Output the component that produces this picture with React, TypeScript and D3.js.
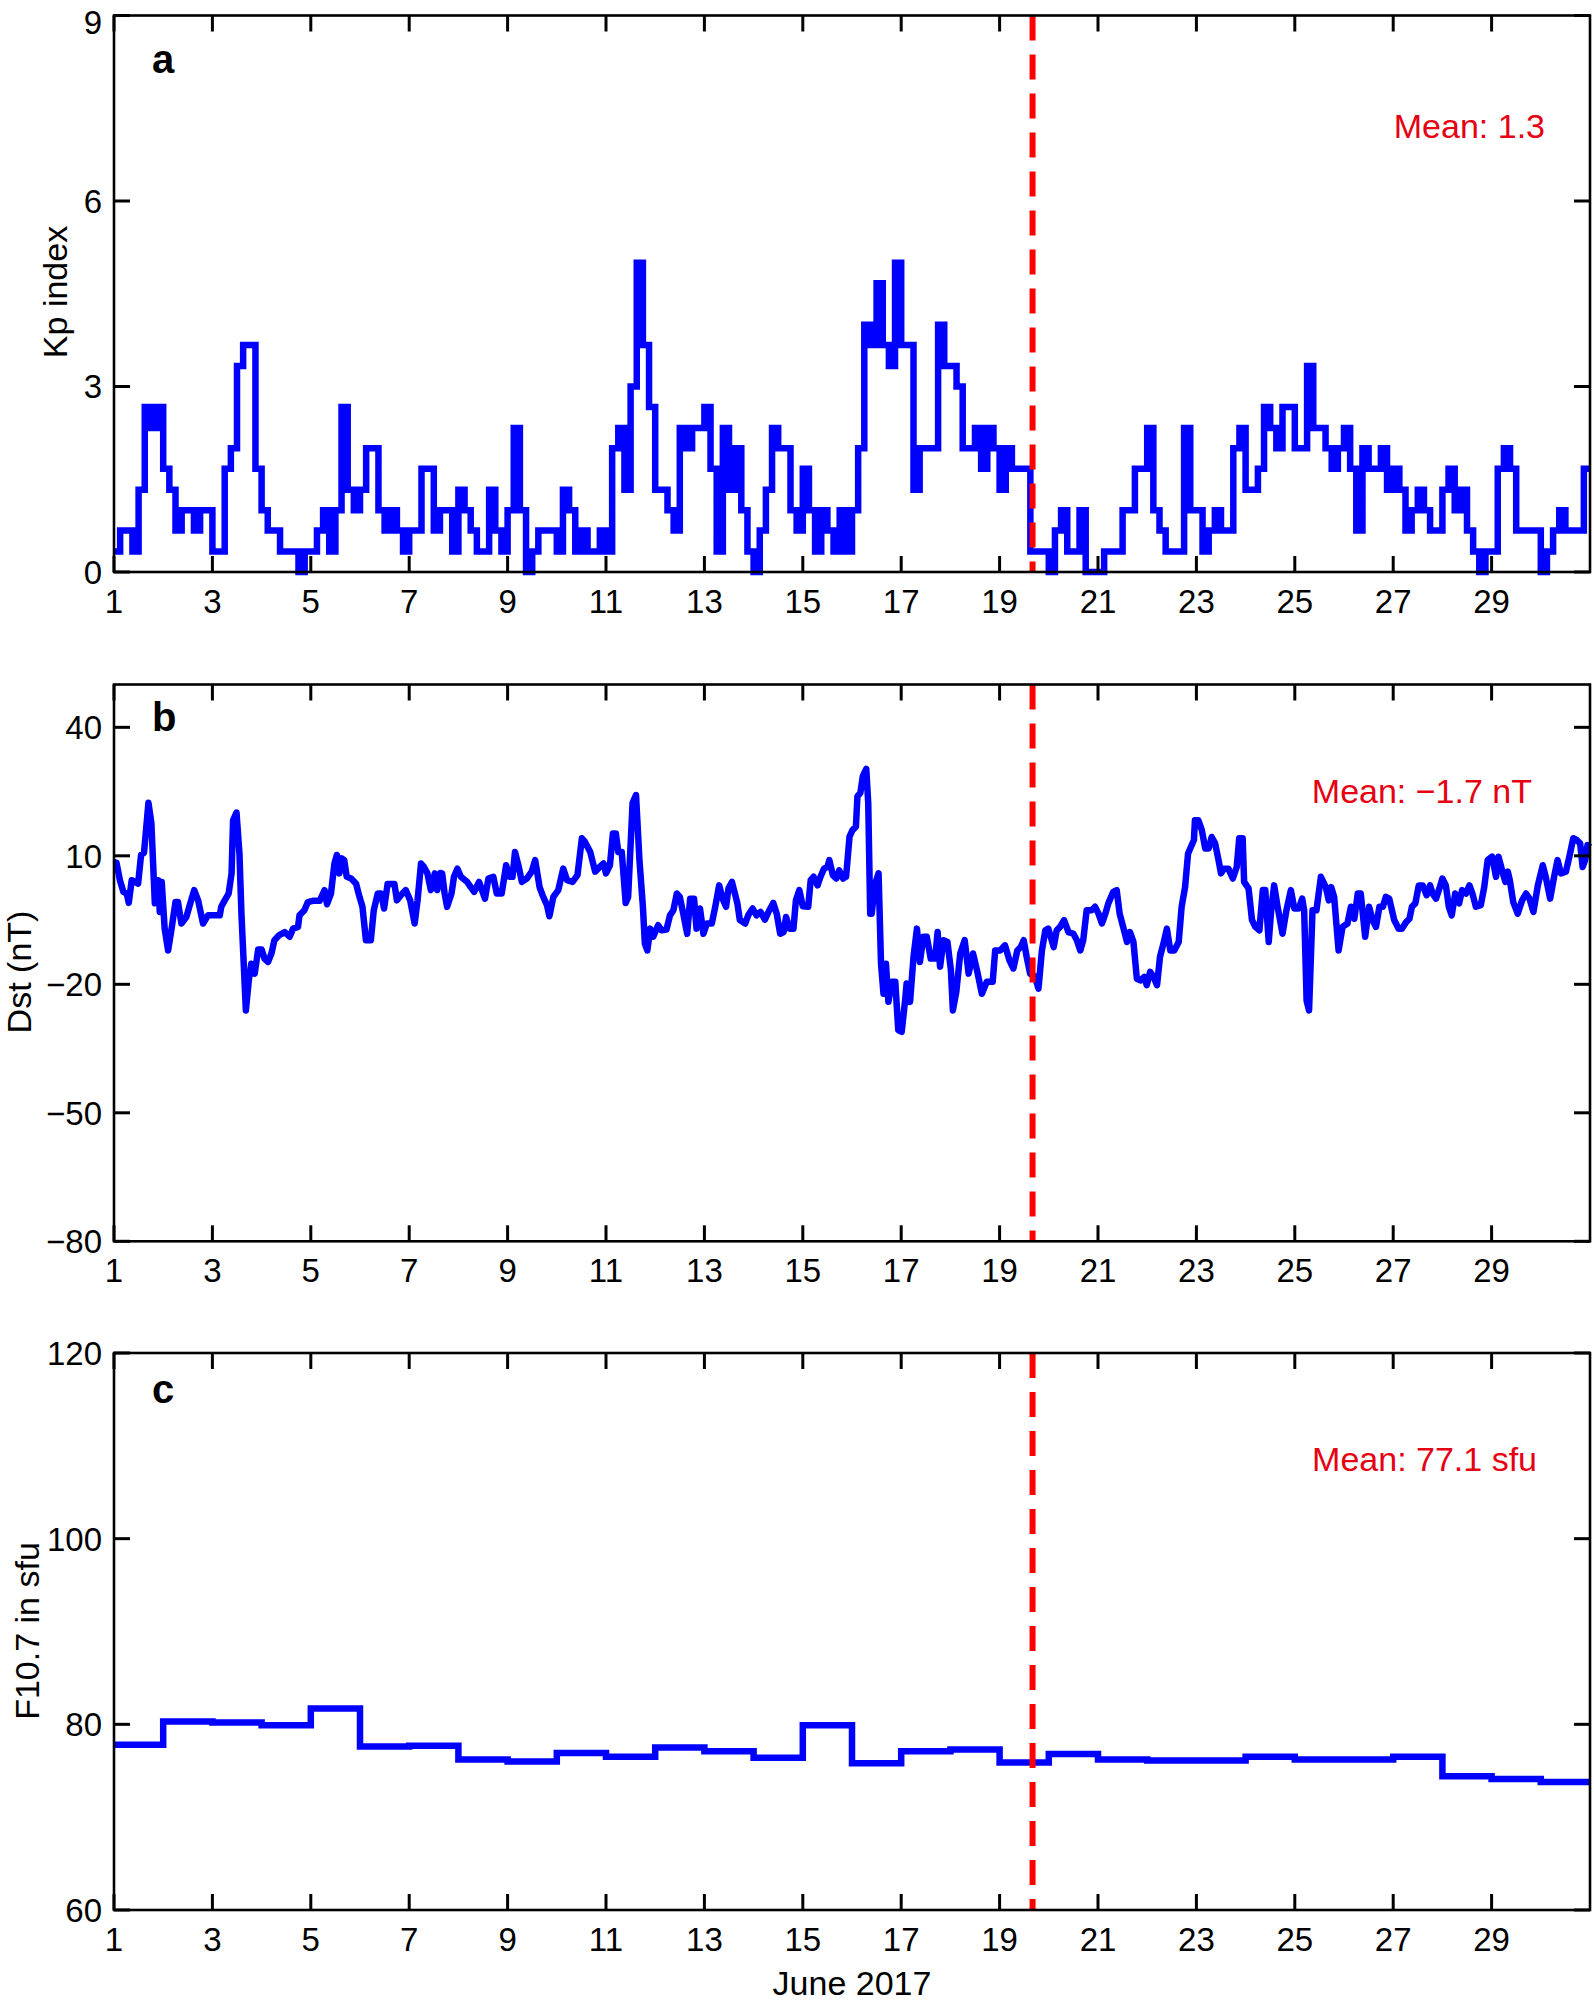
import React from 'react';
import * as d3 from 'd3';

// ---------- data ----------
// Kp index, 3-hourly, June 1 00UT .. June 30 21UT (240 values)
const kpValues: number[] = [
  0.33, 0.67, 0.67, 0.33, 1.33, 2.67, 2.33, 2.67,
  1.67, 1.33, 0.67, 1, 1, 0.67, 1, 1,
  0.33, 0.33, 1.67, 2, 3.33, 3.67, 3.67, 1.67,
  1, 0.67, 0.67, 0.33, 0.33, 0.33, 0, 0.33,
  0.33, 0.67, 1, 0.33, 1, 2.67, 1.33, 1,
  1.33, 2, 2, 1, 0.67, 1, 0.67, 0.33,
  0.67, 0.67, 1.67, 1.67, 0.67, 1, 1, 0.33,
  1.33, 1, 0.67, 0.33, 0.33, 1.33, 0.67, 0.33,
  1, 2.33, 1, 0, 0.33, 0.67, 0.67, 0.67,
  0.33, 1.33, 1, 0.33, 0.67, 0.33, 0.33, 0.67,
  0.33, 2, 2.33, 1.33, 3, 5, 3.67, 2.67,
  1.33, 1.33, 1, 0.67, 2.33, 2, 2.33, 2.33,
  2.67, 1.67, 0.33, 2.33, 1.33, 2, 1, 0.33,
  0, 0.67, 1.33, 2.33, 2, 2, 1, 0.67,
  1.67, 1, 0.33, 1, 0.67, 0.33, 1, 0.33,
  1, 2, 4, 3.67, 4.67, 3.67, 3.33, 5,
  3.67, 3.67, 1.33, 2, 2, 2, 4, 3.33,
  3.33, 3, 2, 2, 2.33, 1.67, 2.33, 2,
  1.33, 2, 1.67, 1.67, 1.67, 0.33, 0.33, 0.33,
  0, 0.67, 1, 0.33, 0.33, 1, 0, 0,
  0, 0.33, 0.33, 0.33, 1, 1, 1.67, 1.67,
  2.33, 1, 0.67, 0.33, 0.33, 0.33, 2.33, 1,
  1, 0.33, 0.67, 1, 0.67, 0.67, 2, 2.33,
  1.33, 1.33, 1.67, 2.67, 2.33, 2, 2.67, 2.67,
  2, 2, 3.33, 2.33, 2.33, 2, 1.67, 2,
  2.33, 1.67, 0.67, 2, 1.67, 1.67, 2, 1.33,
  1.67, 1.33, 0.67, 1, 1.33, 1, 0.67, 0.67,
  1.33, 1.67, 1, 1.33, 0.67, 0.33, 0, 0.33,
  0.33, 1.67, 2, 1.67, 0.67, 0.67, 0.67, 0.67,
  0, 0.33, 0.67, 1, 0.67, 0.67, 0.67, 1.67,
];

// Dst (nT): [day of June, value]
const dstPoints: [number, number][] = [
  [1.00, 8.5], [1.05, 8.4], [1.12, 4.3], [1.19, 1.6], [1.26, 1.2], [1.30, -1.0], [1.36, 4.3], [1.43, 3.9],
  [1.49, 3.5], [1.55, 10.2], [1.61, 10.7], [1.70, 22.4], [1.76, 17.6], [1.83, -1.1], [1.90, 4.3], [1.93, -3.1],
  [1.97, 3.9], [2.03, -7.0], [2.10, -12.1], [2.17, -7.0], [2.25, -0.8], [2.30, -0.8], [2.37, -5.8], [2.47, -4.3],
  [2.54, -1.5], [2.63, 2.0], [2.71, -0.4], [2.81, -5.8], [2.91, -3.9], [3.05, -3.9], [3.15, -3.9], [3.18, -1.9],
  [3.25, -0.4], [3.33, 1.2], [3.39, 5.9], [3.42, 18.3], [3.49, 20.1], [3.55, 10.5], [3.59, -3.5], [3.64, -16.0],
  [3.68, -26.1], [3.74, -19.1], [3.79, -15.2], [3.86, -17.5], [3.93, -11.9], [4.00, -11.9], [4.06, -14.0], [4.13, -14.8],
  [4.20, -12.8], [4.26, -9.7], [4.36, -8.5], [4.47, -7.8], [4.57, -8.9], [4.64, -7.0], [4.74, -6.6], [4.77, -3.9],
  [4.87, -2.7], [4.94, -0.8], [5.04, -0.5], [5.18, -0.5], [5.28, 2.0], [5.33, -1.3], [5.41, 1.2], [5.48, 8.2],
  [5.53, 10.2], [5.58, 5.9], [5.63, 9.4], [5.68, 9.0], [5.73, 5.1], [5.82, 4.7], [5.92, 3.5], [5.99, 0.4],
  [6.05, -1.9], [6.12, -9.7], [6.22, -9.7], [6.28, -2.7], [6.36, 1.2], [6.43, 1.2], [6.49, -2.3], [6.56, 3.4],
  [6.70, 3.4], [6.75, -0.4], [6.83, 0.8], [6.93, 2.0], [7.02, -0.4], [7.11, -5.8], [7.17, -0.4], [7.24, 8.2],
  [7.30, 7.4], [7.37, 5.9], [7.44, 2.0], [7.52, 5.9], [7.57, 2.0], [7.63, 6.0], [7.67, 5.9], [7.72, 1.2],
  [7.77, -1.9], [7.86, 1.2], [7.91, 5.1], [7.98, 7.0], [8.05, 5.1], [8.18, 3.9], [8.25, 2.7], [8.32, 1.6],
  [8.42, 3.9], [8.54, 0.0], [8.61, 4.7], [8.71, 5.1], [8.78, 1.2], [8.88, 1.2], [8.97, 7.8], [9.04, 5.1],
  [9.10, 5.1], [9.15, 10.9], [9.22, 7.8], [9.29, 3.9], [9.39, 4.7], [9.49, 6.3], [9.56, 9.0], [9.65, 2.7],
  [9.71, 0.8], [9.80, -1.5], [9.85, -4.1], [9.93, 0.4], [10.03, 2.0], [10.13, 7.0], [10.21, 4.3], [10.32, 3.9],
  [10.42, 5.5], [10.51, 14.1], [10.57, 13.3], [10.68, 10.9], [10.78, 6.3], [10.87, 7.4], [10.95, 8.2], [11.00, 5.9],
  [11.08, 7.8], [11.14, 15.2], [11.20, 15.2], [11.25, 10.9], [11.32, 10.9], [11.40, -1.0], [11.45, 0.4], [11.54, 22.3],
  [11.61, 24.2], [11.68, 9.0], [11.75, -1.9], [11.79, -10.5], [11.84, -12.1], [11.90, -7.0], [11.96, -8.9], [12.06, -6.2],
  [12.13, -7.4], [12.23, -7.2], [12.30, -3.9], [12.37, -2.7], [12.44, 1.2], [12.50, 0.4], [12.57, -3.5], [12.65, -8.2],
  [12.71, 0.0], [12.79, 0.0], [12.84, -7.0], [12.91, -2.3], [12.98, -8.2], [13.05, -5.8], [13.15, -5.8], [13.22, -1.9],
  [13.30, 3.1], [13.37, 0.0], [13.44, -1.9], [13.49, 2.4], [13.56, 3.9], [13.62, 1.2], [13.67, -1.1], [13.72, -5.0],
  [13.83, -5.8], [13.89, -3.9], [13.98, -2.3], [14.06, -3.9], [14.14, -3.1], [14.23, -4.9], [14.32, -2.7], [14.40, -1.0],
  [14.47, -3.5], [14.54, -8.2], [14.61, -7.8], [14.66, -4.3], [14.73, -7.0], [14.81, -7.0], [14.86, -0.4], [14.93, 2.0],
  [15.00, -1.8], [15.11, -1.9], [15.16, 4.3], [15.22, 5.1], [15.30, 3.1], [15.36, 5.1], [15.43, 7.0], [15.50, 7.4],
  [15.54, 9.0], [15.61, 5.5], [15.68, 4.7], [15.74, 6.6], [15.82, 4.7], [15.88, 5.1], [15.95, 14.5], [16.01, 16.0],
  [16.08, 16.8], [16.11, 23.9], [16.17, 24.7], [16.22, 28.6], [16.29, 30.3], [16.33, 22.3], [16.37, -3.5], [16.40, -3.5],
  [16.47, 3.5], [16.54, 5.9], [16.59, -15.2], [16.64, -22.2], [16.69, -15.2], [16.74, -24.1], [16.81, -19.4], [16.88, -19.4],
  [16.94, -30.7], [17.01, -31.1], [17.08, -23.7], [17.11, -19.8], [17.18, -24.1], [17.25, -13.6], [17.32, -7.0], [17.38, -14.8],
  [17.45, -8.9], [17.52, -8.9], [17.60, -14.0], [17.69, -14.0], [17.74, -7.8], [17.79, -15.9], [17.86, -9.7], [17.94, -10.1],
  [18.01, -16.7], [18.05, -26.1], [18.12, -21.8], [18.20, -12.8], [18.29, -9.7], [18.37, -17.5], [18.46, -12.8], [18.54, -16.7],
  [18.64, -22.2], [18.74, -19.4], [18.86, -19.4], [18.91, -12.1], [19.01, -12.1], [19.11, -10.9], [19.20, -14.4], [19.28, -16.3],
  [19.36, -12.1], [19.43, -11.3], [19.49, -9.7], [19.55, -13.6], [19.62, -17.5], [19.72, -18.2], [19.79, -21.0], [19.86, -12.1],
  [19.93, -7.4], [19.99, -7.0], [20.10, -11.3], [20.16, -7.4], [20.23, -6.6], [20.31, -5.0], [20.40, -7.8], [20.50, -8.2],
  [20.57, -9.7], [20.64, -12.1], [20.70, -9.7], [20.77, -2.7], [20.87, -2.7], [20.94, -1.9], [21.01, -3.5], [21.08, -5.8],
  [21.15, -3.5], [21.21, -1.1], [21.31, 1.6], [21.38, 2.0], [21.44, -3.5], [21.52, -7.0], [21.59, -10.1], [21.65, -7.8],
  [21.72, -10.1], [21.79, -18.7], [21.86, -19.1], [21.94, -18.3], [21.99, -20.2], [22.06, -17.1], [22.13, -18.3], [22.20, -20.2],
  [22.26, -13.6], [22.33, -10.5], [22.40, -7.0], [22.47, -12.1], [22.55, -12.1], [22.64, -10.1], [22.70, -1.9], [22.77, 2.7],
  [22.83, 10.5], [22.89, 12.1], [22.95, 13.7], [22.97, 18.3], [23.04, 18.3], [23.11, 16.0], [23.18, 11.7], [23.25, 11.7],
  [23.31, 14.4], [23.38, 12.9], [23.45, 9.0], [23.50, 5.9], [23.56, 7.0], [23.65, 7.0], [23.74, 4.7], [23.82, 7.4],
  [23.87, 14.1], [23.94, 14.1], [23.97, 3.9], [24.06, 2.4], [24.13, -5.0], [24.20, -6.6], [24.28, -7.4], [24.35, 2.0],
  [24.40, 2.0], [24.47, -10.1], [24.52, -2.7], [24.58, 3.1], [24.65, -1.9], [24.75, -8.2], [24.83, -2.7], [24.92, 2.0],
  [24.99, -2.3], [25.08, -2.3], [25.15, 0.0], [25.19, -2.7], [25.24, -23.8], [25.29, -26.1], [25.36, -2.7], [25.44, -2.7],
  [25.53, 5.1], [25.63, 2.7], [25.69, -0.4], [25.74, 2.7], [25.80, 0.4], [25.89, -12.1], [25.97, -6.6], [26.07, -5.8],
  [26.14, -1.9], [26.21, -4.7], [26.28, 1.2], [26.34, 1.2], [26.43, -8.9], [26.51, -1.9], [26.58, -5.0], [26.65, -6.6],
  [26.72, -1.9], [26.79, -1.9], [26.85, 0.4], [26.92, 0.0], [27.02, -5.0], [27.11, -7.0], [27.18, -7.0], [27.26, -5.5],
  [27.33, -4.7], [27.38, -1.9], [27.45, -1.1], [27.52, 3.1], [27.60, 3.1], [27.68, 0.8], [27.75, 3.1], [27.80, 1.2],
  [27.87, 0.0], [27.94, 2.4], [28.00, 4.7], [28.07, 3.1], [28.13, -1.9], [28.19, -3.9], [28.26, 1.2], [28.34, -1.1],
  [28.40, 2.0], [28.48, 1.2], [28.55, 3.1], [28.61, 1.2], [28.68, -1.9], [28.78, -1.5], [28.85, 2.7], [28.92, 9.0],
  [29.01, 9.8], [29.09, 5.1], [29.14, 9.8], [29.22, 6.3], [29.28, 3.9], [29.33, 6.3], [29.37, 4.3], [29.44, -0.8],
  [29.53, -3.5], [29.62, -0.4], [29.70, 1.2], [29.77, 0.0], [29.85, -3.1], [29.94, 3.1], [30.04, 7.8], [30.10, 5.1],
  [30.19, 0.0], [30.27, 5.1], [30.34, 9.0], [30.41, 5.9], [30.51, 6.3], [30.58, 9.8], [30.66, 14.1], [30.73, 13.7],
  [30.80, 12.9], [30.85, 7.4], [30.90, 9.0], [30.95, 12.5], [31.00, 12.0],
];

// F10.7 (sfu), daily, June 1 .. June 30
const f107Values: number[] = [
  77.8, 80.3, 80.2, 79.9, 81.7, 77.6, 77.7, 76.2, 76.0, 76.9,
  76.5, 77.5, 77.1, 76.4, 79.9, 75.8, 77.1, 77.3, 75.9, 76.8,
  76.2, 76.1, 76.1, 76.5, 76.2, 76.2, 76.5, 74.4, 74.1, 73.8,
];

const dayTicks: number[] = [1, 3, 5, 7, 9, 11, 13, 15, 17, 19, 21, 23, 25, 27, 29];
const kpTicks: number[] = [0, 3, 6, 9];
const dstTicks: number[] = [-80, -50, -20, 10, 40];
const f107Ticks: number[] = [60, 80, 100, 120];
const eventDay = 19.67;
const meanLabels: string[] = ['Mean: 1.3', 'Mean: \u22121.7 nT', 'Mean: 77.1 sfu'];
const panelLetters: string[] = ['a', 'b', 'c'];
const yTitles: string[] = ['Kp index', 'Dst (nT)', 'F10.7 in sfu'];
const xTitle = 'June 2017';

// ---------- layout ----------
const W = 1594;
const H = 2007;
const X0 = 114;
const X1 = 1590;
const FONT = "'Liberation Sans', Arial, Helvetica, sans-serif";
const BLUE = '#0000FF';
const RED = '#FF0000';
const TEXT_RED = '#E60012';
const TICK_LEN = 16;

type Panel = {
  top: number;
  bottom: number;
  domain: [number, number];
  ticks: number[];
  titleX: number;
  titleY: number;
  letterY: number;
  meanX: number;
  meanY: number;
};

const panels: Panel[] = [
  { top: 15.5, bottom: 572, domain: [0, 9], ticks: kpTicks, titleX: 67, titleY: 292, letterY: 73, meanX: 1545, meanY: 138 },
  { top: 684.5, bottom: 1241.3, domain: [-80, 50], ticks: dstTicks, titleX: 31, titleY: 972, letterY: 731, meanX: 1532, meanY: 803 },
  { top: 1353, bottom: 1910, domain: [60, 120], ticks: f107Ticks, titleX: 39, titleY: 1631, letterY: 1403, meanX: 1537, meanY: 1471 },
];

function fmt(v: number): string {
  return v < 0 ? '\u2212' + Math.abs(v) : String(v);
}

export default function App() {
  const x = d3.scaleLinear().domain([1, 31]).range([X0, X1]);
  const ys = panels.map((p) => d3.scaleLinear().domain(p.domain).range([p.bottom, p.top]));

  const kpData: [number, number][] = kpValues.map((v, i) => [1 + i / 8, v] as [number, number]);
  kpData.push([31, kpValues[kpValues.length - 1]]);
  const f107Data: [number, number][] = f107Values.map((v, i) => [1 + i, v] as [number, number]);
  f107Data.push([31, f107Values[f107Values.length - 1]]);

  const stepLine = (y: d3.ScaleLinear<number, number>) =>
    d3.line<[number, number]>().x((d) => x(d[0])).y((d) => y(d[1])).curve(d3.curveStepAfter);
  const linLine = (y: d3.ScaleLinear<number, number>) =>
    d3.line<[number, number]>().x((d) => x(d[0])).y((d) => y(d[1])).curve(d3.curveLinear);

  const paths = [
    stepLine(ys[0])(kpData) || '',
    linLine(ys[1])(dstPoints) || '',
    stepLine(ys[2])(f107Data) || '',
  ];

  return (
    <div style={{ position: 'absolute', left: 0, top: 0, width: W, height: H, background: '#fff' }}>
      <svg width={W} height={H} style={{ display: 'block' }} fontFamily={FONT}>
        <rect x={0} y={0} width={W} height={H} fill="#fff" />
        {panels.map((p, pi) => {
          const y = ys[pi];
          return (
            <g key={pi}>
              {/* data line */}
              <path d={paths[pi]} fill="none" stroke={BLUE} strokeWidth={6.5}
                strokeLinejoin={pi === 1 ? 'round' : 'miter'} strokeLinecap="butt" />
              {/* event line */}
              <line x1={x(eventDay)} x2={x(eventDay)} y1={p.top} y2={p.bottom}
                stroke={RED} strokeWidth={6} strokeDasharray="25 14" />
              {/* frame */}
              <rect x={X0} y={p.top} width={X1 - X0} height={p.bottom - p.top}
                fill="none" stroke="#000" strokeWidth={2.6} />
              {/* x ticks */}
              {dayTicks.map((d) => (
                <g key={'xt' + d}>
                  <line x1={x(d)} x2={x(d)} y1={p.bottom} y2={p.bottom - TICK_LEN} stroke="#000" strokeWidth={3} />
                  <line x1={x(d)} x2={x(d)} y1={p.top} y2={p.top + TICK_LEN} stroke="#000" strokeWidth={3} />
                  <text x={x(d)} y={p.bottom + 41} textAnchor="middle" fontSize={33} fill="#000">{d}</text>
                </g>
              ))}
              {/* y ticks */}
              {p.ticks.map((t) => (
                <g key={'yt' + t}>
                  <line x1={X0} x2={X0 + TICK_LEN} y1={y(t)} y2={y(t)} stroke="#000" strokeWidth={3} />
                  <line x1={X1} x2={X1 - TICK_LEN} y1={y(t)} y2={y(t)} stroke="#000" strokeWidth={3} />
                  <text x={102} y={Math.max(y(t), 22)} dy="0.36em" textAnchor="end" fontSize={33} fill="#000">{fmt(t)}</text>
                </g>
              ))}
              {/* y title */}
              <text transform={`translate(${p.titleX},${p.titleY}) rotate(-90)`} textAnchor="middle"
                fontSize={34} fill="#000">{yTitles[pi]}</text>
              {/* panel letter */}
              <text x={152} y={p.letterY} fontSize={40} fontWeight="bold" fill="#000">{panelLetters[pi]}</text>
              {/* mean */}
              <text x={p.meanX} y={p.meanY} textAnchor="end" fontSize={34} fill={TEXT_RED}>{meanLabels[pi]}</text>
            </g>
          );
        })}
        <text x={(X0 + X1) / 2} y={1995} textAnchor="middle" fontSize={34} fill="#000">{xTitle}</text>
      </svg>
    </div>
  );
}
